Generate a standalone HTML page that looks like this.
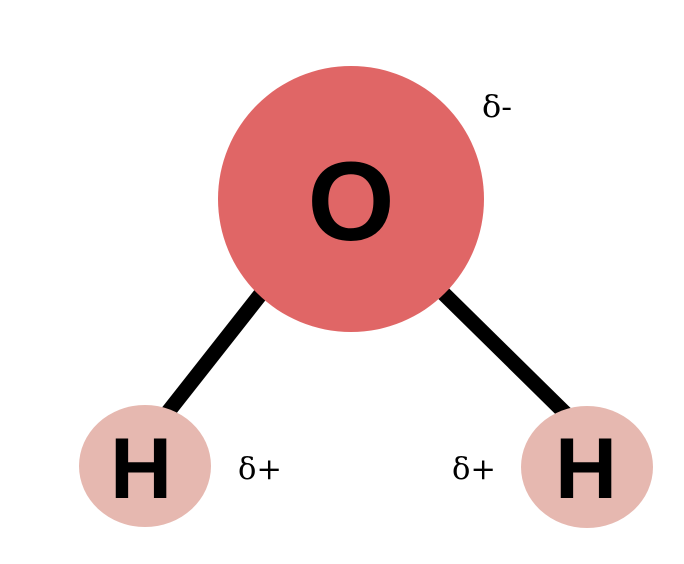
<!DOCTYPE html>
<html><head><meta charset="utf-8"><style>
html,body{margin:0;padding:0;background:#fff;}
svg{display:block;}
</style></head><body>
<svg width="684" height="564" viewBox="0 0 684 564" xmlns="http://www.w3.org/2000/svg">
<line x1="168" y1="412" x2="264" y2="290" stroke="#000" stroke-width="15"/>
<line x1="440" y1="290" x2="566" y2="414" stroke="#000" stroke-width="15"/>
<circle cx="351" cy="199" r="133" fill="#e06666"/>
<ellipse cx="145" cy="466" rx="66" ry="61" fill="#e6b8b0"/>
<ellipse cx="587" cy="467" rx="66" ry="61" fill="#e6b8b0"/>
<text x="351" y="240" text-anchor="middle" font-family="Liberation Sans, sans-serif" font-weight="bold" font-size="112">O</text>
<text x="141" y="498" text-anchor="middle" font-family="Liberation Sans, sans-serif" font-weight="bold" font-size="86">H</text>
<text x="586" y="498" text-anchor="middle" font-family="Liberation Sans, sans-serif" font-weight="bold" font-size="86">H</text>
<g font-family="DejaVu Serif, serif" font-size="30" font-weight="300">
<text x="482" y="117" textLength="30" lengthAdjust="spacingAndGlyphs">δ-</text>
<text x="238" y="479" textLength="44" lengthAdjust="spacingAndGlyphs">δ+</text>
<text x="452" y="479" textLength="44" lengthAdjust="spacingAndGlyphs">δ+</text>
</g>
</svg>
</body></html>
